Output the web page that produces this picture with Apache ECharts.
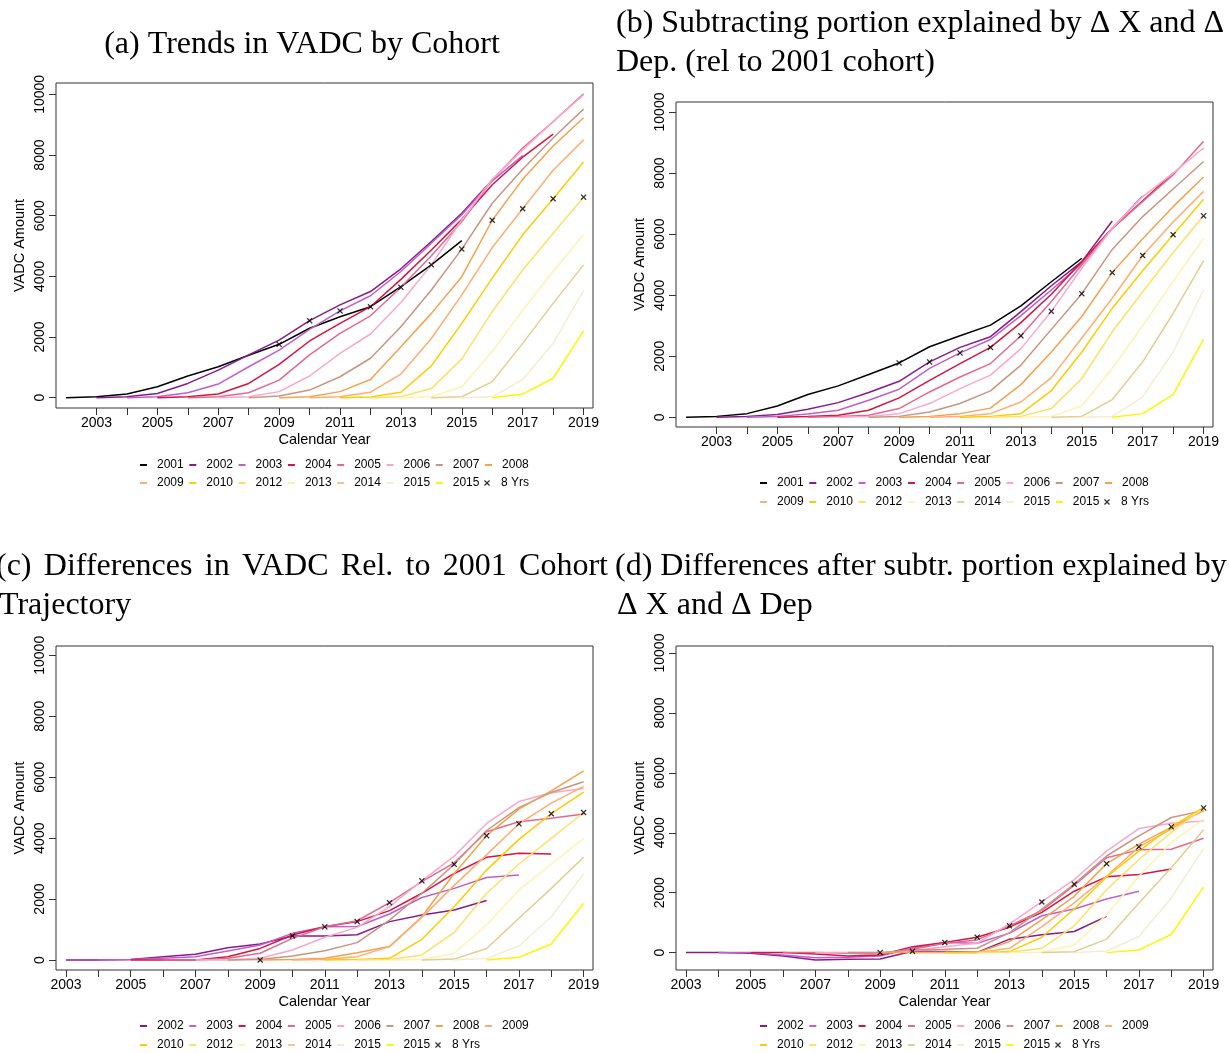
<!DOCTYPE html>
<html>
<head>
<meta charset="utf-8">
<script src="https://cdn.jsdelivr.net/npm/echarts@6.0.0/dist/echarts.min.js"></script>
<style>
  html, body { margin: 0; padding: 0; background: #fff; }
  #main { width: 1229px; height: 1053px; }
</style>
</head>
<body>
<div id="main"></div>
<script>
var cohorts = ['2001', '2002', '2003', '2004', '2005', '2006', '2007', '2008', '2009', '2010', '2012', '2013', '2014', '2015', '2015 '];
var startYears = [2002, 2003, 2004, 2005, 2006, 2007, 2008, 2009, 2010, 2011, 2012, 2013, 2014, 2015, 2016];
var cohortColors = ['#000000', '#8b1a89', '#bf5fcc', '#d7143f', '#e36a8e', '#fba7cc', '#c99580', '#f5a24e', '#ffad70', '#ffcc00', '#ffe066', '#fff2b0', '#e6cc8e', '#f5edd2', '#fff500'];

var markerYears = [2009, 2010, 2011, 2012, 2013, 2014, 2015, 2016, 2017, 2018, 2019];
var xTicks = [2003, 2004, 2005, 2006, 2007, 2008, 2009, 2010, 2011, 2012, 2013, 2014, 2015, 2016, 2017, 2018, 2019];
var xLabels = [2003, 2005, 2007, 2009, 2011, 2013, 2015, 2017, 2019];
var yTicks = [0, 2000, 4000, 6000, 8000, 10000];

// (a) trends by cohort, 2001..2015
var valuesA = [
    [0, 30, 120, 360, 715, 1020, 1400, 1760, 2290, 2670, 3000, 3660, 4380, 5180],
    [0, 30, 140, 470, 910, 1410, 1900, 2540, 3060, 3500, 4250, 5150, 6080, 7180],
    [0, 30, 165, 450, 1020, 1570, 2250, 2860, 3360, 4160, 5090, 6030, 7150, 7980],
    [0, 30, 120, 470, 1100, 1870, 2450, 3000, 3900, 4870, 5880, 7020, 7930, 8690],
    [0, 30, 165, 580, 1410, 2120, 2700, 3640, 4680, 5800, 7180, 8230, 9100, 10020],
    [0, 30, 200, 715, 1460, 2100, 3140, 4380, 5860, 7200, 8170, 9100, 9990],
    [0, 55, 250, 690, 1300, 2340, 3550, 4900, 6410, 7530, 8560, 9515],
    [0, 30, 200, 600, 1680, 2780, 3990, 5850, 7200, 8300, 9230],
    [0, 30, 180, 780, 1950, 3390, 4950, 6230, 7500, 8500],
    [0, 20, 180, 1050, 2450, 3940, 5370, 6560, 7770],
    [0, 30, 300, 1280, 2840, 4210, 5420, 6610],
    [0, 30, 360, 1520, 2890, 4160, 5390],
    [0, 30, 530, 1790, 3110, 4380],
    [0, 30, 600, 1790, 3530],
    [0, 120, 640, 2200]
];
var markersA = [1760, 2540, 2860, 3000, 3640, 4380, 4900, 5850, 6230, 6560, 6610];

// (b) after subtracting portion explained by X and Dep.
var valuesB = [
    [0, 30, 120, 370, 745, 1030, 1400, 1780, 2310, 2670, 3020, 3650, 4440, 5210],
    [0, 30, 90, 260, 480, 810, 1180, 1815, 2290, 2640, 3460, 4310, 5100, 6430],
    [0, 30, 110, 230, 560, 920, 1600, 2110, 2550, 3330, 4170, 5040, 6190, 7260],
    [0, 30, 65, 230, 635, 1210, 1760, 2290, 3100, 4030, 5100, 6190, 7090, 8000],
    [0, 30, 65, 285, 830, 1320, 1760, 2670, 3790, 4990, 6190, 7070, 7940, 9040],
    [0, 30, 120, 450, 940, 1380, 2250, 3470, 4880, 6190, 7230, 8000, 8820],
    [0, 30, 175, 450, 865, 1710, 2880, 4050, 5500, 6575, 7480, 8380],
    [0, 30, 120, 300, 1070, 2140, 3300, 4740, 5850, 6900, 7870],
    [0, 30, 120, 500, 1300, 2600, 3900, 5300, 6400, 7400],
    [0, 30, 120, 875, 2140, 3570, 4800, 5980, 7140],
    [0, 30, 285, 1270, 2800, 4110, 5400, 6600],
    [0, 30, 370, 1600, 3000, 4450, 5865],
    [0, 30, 580, 1815, 3400, 5120],
    [0, 30, 670, 2140, 4170],
    [0, 120, 745, 2560]
];
var markersB = [1780, 1815, 2110, 2290, 2670, 3470, 4050, 4740, 5300, 5980, 6600];

// (c) differences rel. to 2001 cohort, 2002..2015
var valuesC = [
    [0, 0, 20, 110, 190, 400, 525, 790, 790, 830, 1260, 1480, 1640, 1950],
    [0, 20, 55, 110, 295, 490, 875, 1090, 1100, 1510, 2050, 2350, 2710, 2790],
    [0, 0, 0, 110, 380, 820, 1090, 1260, 1620, 2190, 2840, 3370, 3500, 3480],
    [0, 0, 55, 220, 710, 1090, 1290, 1880, 2570, 3190, 4210, 4540, 4650, 4790],
    [0, 0, 55, 330, 745, 1070, 1750, 2600, 3410, 4480, 5200, 5490, 5630],
    [0, 20, 130, 305, 570, 1310, 2190, 3140, 4250, 5000, 5500, 5850],
    [0, 20, 55, 240, 440, 1420, 2840, 4080, 4950, 5550, 6210],
    [0, 20, 110, 440, 1400, 2450, 3450, 4470, 5150, 5700],
    [0, 20, 55, 680, 1750, 2950, 3960, 4800, 5510],
    [0, 20, 165, 905, 2190, 3150, 3990, 4840],
    [0, 20, 220, 1150, 2300, 3150, 3990],
    [0, 30, 380, 1370, 2350, 3370],
    [0, 55, 460, 1420, 2820],
    [0, 90, 525, 1860]
];
var markersC = [0, 790, 1090, 1260, 1880, 2600, 3140, 4080, 4470, 4800, 4840];

// (d) differences after subtracting portion explained by X and Dep
var valuesD = [
    [0, 0, -20, -110, -245, -225, -210, 45, 35, 10, 450, 595, 705, 1210],
    [0, 0, -80, -170, -155, -110, 145, 335, 315, 650, 1230, 1455, 1790, 2050],
    [0, 0, -45, -110, -80, 200, 335, 515, 850, 1345, 2050, 2530, 2610, 2790],
    [0, 0, -20, -45, 110, 315, 425, 895, 1410, 2240, 3170, 3430, 3450, 3820],
    [0, 0, 0, 65, 200, 315, 960, 1700, 2440, 3390, 4140, 4320, 4390],
    [0, 0, 90, 110, 145, 670, 1455, 2285, 3225, 3900, 4510, 4740],
    [0, 0, 0, 0, 370, 1100, 1880, 2970, 3620, 4180, 4740],
    [0, 0, 0, 145, 870, 1660, 2550, 3530, 4120, 4770],
    [0, 0, 35, 515, 1455, 2530, 3390, 4200, 4850],
    [0, 10, 145, 895, 2100, 3110, 4010, 4830],
    [0, 10, 255, 1265, 2550, 3670, 4460],
    [0, 30, 450, 1660, 2830, 4100],
    [0, 55, 540, 1825, 3470],
    [0, 90, 605, 2195]
];
var markersD = [0, 45, 335, 515, 895, 1690, 2285, 2970, 3530, 4200, 4830];

var xSymbol = 'path://M1.5,0L5,3.5L8.5,0L10,1.5L6.5,5L10,8.5L8.5,10L5,6.5L1.5,10L0,8.5L3.5,5L0,1.5Z';
var sans = 'Liberation Sans';
var serif = 'Liberation Serif';

var grids = [
    { left: 56, top: 83, width: 537, height: 325 },
    { left: 676, top: 102, width: 537, height: 325 },
    { left: 56, top: 646, width: 537, height: 324 },
    { left: 676, top: 646, width: 537, height: 324 }
];
var xRanges = [[2001.67, 2019.31], [2001.67, 2019.31], [2002.69, 2019.29], [2002.69, 2019.29]];
var yRanges = [[-340, 10376], [-318, 10328], [-328, 10305], [-580, 10235]];

var series = [];

function addPanel(idx, values, markers, first) {
    for (var i = 0; i < values.length; i++) {
        var c = first + i;
        series.push({
            type: 'line',
            name: cohorts[c],
            xAxisIndex: idx,
            yAxisIndex: idx,
            symbol: 'none',
            silent: true,
            lineStyle: { color: cohortColors[c], width: 1.5 },
            itemStyle: { color: cohortColors[c] },
            data: values[i].map(function (v, k) { return [startYears[c] + k, v]; })
        });
    }
    series.push({
        type: 'scatter',
        name: '8 Yrs',
        xAxisIndex: idx,
        yAxisIndex: idx,
        symbol: xSymbol,
        symbolSize: 6,
        silent: true,
        z: 5,
        itemStyle: { color: '#000' },
        data: markers.map(function (v, k) { return [markerYears[k], v]; })
    });
}

addPanel(0, valuesA, markersA, 0);
addPanel(1, valuesB, markersB, 0);
addPanel(2, valuesC, markersC, 1);
addPanel(3, valuesD, markersD, 1);

function plain(v) { return String(v); }

var xAxes = grids.map(function (g, i) {
    return {
        type: 'value', gridIndex: i, min: xRanges[i][0], max: xRanges[i][1],
        name: 'Calendar Year', nameLocation: 'middle', nameGap: 24,
        nameTextStyle: { fontFamily: sans, fontSize: 14.5, color: '#000' },
        axisLine: { show: false, onZero: false },
        axisTick: { show: true, length: 7, customValues: xTicks, lineStyle: { color: '#333' } },
        axisLabel: { customValues: xLabels, formatter: plain, fontFamily: sans, fontSize: 14, color: '#000', margin: 8 },
        splitLine: { show: false }
    };
});
var yAxes = grids.map(function (g, i) {
    return {
        type: 'value', gridIndex: i, min: yRanges[i][0], max: yRanges[i][1],
        name: 'VADC Amount', nameLocation: 'middle', nameGap: 29, nameRotate: 90,
        nameTextStyle: { fontFamily: sans, fontSize: 14.5, color: '#000' },
        axisLine: { show: false, onZero: false },
        axisTick: { show: true, length: 7, customValues: yTicks, lineStyle: { color: '#333' } },
        axisLabel: { customValues: yTicks, formatter: plain, rotate: 90, fontFamily: sans, fontSize: 14, color: '#000', margin: 9 },
        splitLine: { show: false }
    };
});

function lineLegend(names, left, top) {
    return {
        data: names, left: left, top: top, padding: 0,
        icon: 'rect', itemWidth: 7, itemHeight: 2, itemGap: 5.6,
        selectedMode: false,
        formatter: function (n) { return n.trim(); },
        textStyle: { fontFamily: sans, fontSize: 12, color: '#000', padding: [0, 0, 0, 5] }
    };
}
function markLegend(left, top) {
    return {
        data: ['8 Yrs'], left: left, top: top, padding: 0,
        itemWidth: 6, itemHeight: 6, selectedMode: false,
        textStyle: { fontFamily: sans, fontSize: 12, color: '#000', padding: [0, 0, 0, 6] }
    };
}

var rowAB1 = cohorts.slice(0, 8);
var rowAB2 = cohorts.slice(8);
var rowCD1 = cohorts.slice(1, 9);
var rowCD2 = cohorts.slice(9);

var legends = [
    lineLegend(rowAB1, 140, 459), lineLegend(rowAB2, 140, 477), markLegend(484, 477),
    lineLegend(rowAB1, 760, 477), lineLegend(rowAB2, 760, 496), markLegend(1104, 496),
    lineLegend(rowCD1, 140, 1020), lineLegend(rowCD2, 140, 1039), markLegend(435, 1039),
    lineLegend(rowCD1, 760, 1020), lineLegend(rowCD2, 760, 1039), markLegend(1055, 1039)
];

function title(text, x, y, align) {
    return {
        type: 'text', x: x, y: y,
        style: { text: text, fontFamily: serif, fontSize: 32, fill: '#000', textAlign: align || 'left', textVerticalAlign: 'middle' }
    };
}

// spread words of a title line between x0 and x1, like the justified caption
var measureCtx = document.createElement('canvas').getContext('2d');
measureCtx.font = '32px "Liberation Serif"';
function justified(words, x0, x1, y) {
    var widths = words.map(function (w) { return measureCtx.measureText(w).width; });
    var total = widths.reduce(function (a, b) { return a + b; }, 0);
    var gap = (x1 - x0 - total) / (words.length - 1);
    var out = [];
    var x = x0;
    for (var i = 0; i < words.length; i++) {
        out.push(title(words[i], x, y));
        x += widths[i] + gap;
    }
    return out;
}

var titles = [
    title('(a) Trends in VADC by Cohort', 302, 45, 'center'),
    title('(b) Subtracting portion explained by \u0394 X and \u0394', 616, 24),
    title('Dep. (rel to 2001 cohort)', 616, 63),
    title('Trajectory', -1, 606),
    title('(d) Differences after subtr. portion explained by', 615, 567),
    title('\u0394 X and \u0394 Dep', 617, 606)
].concat(justified(['(c)', 'Differences', 'in', 'VADC', 'Rel.', 'to', '2001', 'Cohort'], -4, 608, 567));

var chart = echarts.init(document.getElementById('main'), null, { renderer: 'canvas' });
chart.setOption({
    animation: false,
    backgroundColor: '#fff',
    grid: grids.map(function (g) {
        return { left: g.left, top: g.top, width: g.width, height: g.height, show: true, borderColor: '#333', borderWidth: 1, backgroundColor: 'transparent' };
    }),
    xAxis: xAxes,
    yAxis: yAxes,
    legend: legends,
    series: series,
    graphic: titles
});
</script>
</body>
</html>
